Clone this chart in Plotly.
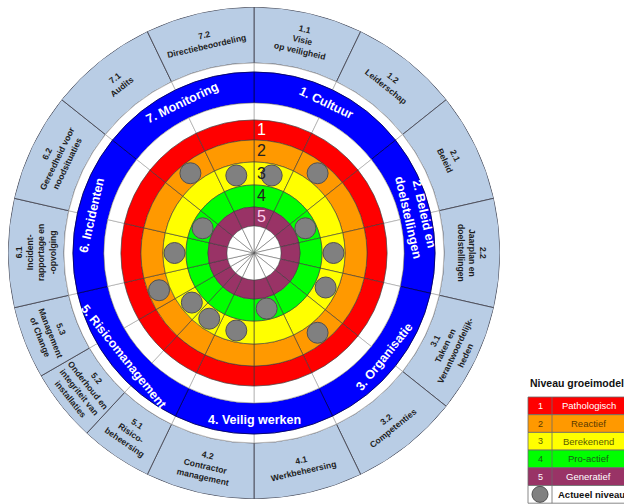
import math
import plotly.graph_objects as go

# ---------------- data ----------------
elements = ["1. Cultuur", "2. Beleid en<br>doelstellingen", "3. Organisatie",
            "4. Veilig werken", "5. Risicomanagement", "6. Incidenten", "7. Monitoring"]
sub_codes = ["1.1", "1.2", "2.1", "2.2", "3.1", "3.2", "4.1", "4.2",
             "5.1", "5.2", "5.3", "6.1", "6.2", "7.1", "7.2"]
sub_names = ["Visie<br>op veiligheid", "Leiderschap", "Beleid", "Jaarplan en<br>doelstellingen",
             "Taken en<br>Verantwoordelijk-<br>heden", "Competenties", "Werkbeheersing",
             "Contractor<br>management", "Risico-<br>beheersing",
             "Onderhoud en<br>integriteit van<br>installaties", "Management<br>of Change",
             "Incident-<br>rapportage en<br>-opvolging", "Gereedheid voor<br>noodsituaties",
             "Audits", "Directiebeoordeling"]
current_level = [3, 2, 4, 3, 3, 2, 4, 3, 3, 3, 2, 3, 4, 2, 3]
level_numbers = ["1", "2", "3", "4", "5"]
level_names = ["Pathologisch", "Reactief", "Berekenend", "Pro-actief", "Generatief"]
legend_title = "Niveau groeimodel"
legend_current = "Actueel niveau"

# ---------------- styling / geometry ----------------
FONT = "Liberation Sans, Arial, sans-serif"
level_colors = ["#ff0000", "#ff9900", "#ffff00", "#00ff00", "#993366"]
level_text_colors = ["#ffffff", "#222222", "#222222", "#222222", "#ffccee"]
legend_text_colors = ["#ffffff", "#5a3a00", "#5a5a00", "#1a5a1a", "#ffffff"]
SUB_BLUE = "#b9cde5"
MAIN_BLUE = "#0000ff"
DOT_GREY = "#808080"

R_OUT = 246
SUB_IN = 190
BLUE_OUT, BLUE_IN = 181, 150
RED_OUT = 133
level_edges = [(113, 133), (91, 113), (68, 91), (46, 68), (27, 46)]  # level 1..5 (inner, outer)
CENTER_R = 27

W, H = 624, 504
CX, CY, RP = 254, 253, 246  # center and radius of the wheel in pixels

n_main = len(elements)
main_w = 360.0 / n_main
main_mid = [i * main_w + main_w / 2 for i in range(n_main)]

parent = [int(c.split(".")[0]) - 1 for c in sub_codes]
sub_start, sub_width = [], []
for i, c in enumerate(sub_codes):
    p = parent[i]
    sibs = [j for j in range(len(sub_codes)) if parent[j] == p]
    k = sibs.index(i)
    w = main_w / len(sibs)
    sub_start.append(p * main_w + k * w)
    sub_width.append(w)
sub_mid = [s + w / 2 for s, w in zip(sub_start, sub_width)]

fig = go.Figure()


def ring(theta, width, base, thick, color, lcolor, lw):
    fig.add_trace(go.Barpolar(
        theta=theta, width=width, base=[base] * len(theta), r=[thick] * len(theta),
        marker=dict(color=color, line=dict(color=lcolor, width=lw)),
        hoverinfo="skip", showlegend=False))


# outer sub-element ring
ring(sub_mid, sub_width, SUB_IN, R_OUT - SUB_IN, SUB_BLUE, "#4a4a55", 0.9)
# white gap
ring(sub_mid, sub_width, BLUE_OUT, SUB_IN - BLUE_OUT, "#ffffff", "#9a9a9a", 0.6)
# main element ring
ring(main_mid, [main_w] * n_main, BLUE_IN, BLUE_OUT - BLUE_IN, MAIN_BLUE, "#000066", 0.9)
# white gap
ring(sub_mid, sub_width, RED_OUT, BLUE_IN - RED_OUT, "#ffffff", "#9a9a9a", 0.6)
# level rings
for li, (rin, rout) in enumerate(level_edges):
    ring(sub_mid, sub_width, rin, rout - rin, level_colors[li], "#3a3a3a", 0.6)
# centre
ring(sub_mid, sub_width, 0, CENTER_R, "#ffffff", "#555555", 0.5)

# current level dots
dot_r = [(level_edges[l - 1][0] + level_edges[l - 1][1]) / 2 for l in current_level]
fig.add_trace(go.Scatterpolar(
    r=dot_r, theta=sub_mid, mode="markers",
    marker=dict(size=21, color=DOT_GREY, line=dict(color="#505050", width=1)),
    hoverinfo="skip", showlegend=False))

# invisible cartesian overlay for rotated labels
fig.add_trace(go.Scatter(x=[None], y=[None], xaxis="x", yaxis="y",
                         hoverinfo="skip", showlegend=False))

dom_x = [(CX - RP) / W, (CX + RP) / W]
dom_y = [1 - (CY + RP) / H, 1 - (CY - RP) / H]


def xy(r, th):
    a = math.radians(th)
    return r * math.sin(a), r * math.cos(a)


def tangent_angle(th):
    if 90 < th < 270:
        return th - 180
    if th <= 90:
        return th
    return th - 360


annotations = []
for code, name, th in zip(sub_codes, sub_names, sub_mid):
    x, y = xy((SUB_IN + R_OUT) / 2, th)
    annotations.append(dict(x=x, y=y, xref="x", yref="y",
                            text="<b>" + code + "<br>" + name + "</b>",
                            textangle=tangent_angle(th), showarrow=False,
                            font=dict(family=FONT, size=8.6, color="#1e1e1e"),
                            xanchor="center", yanchor="middle", align="center"))
for name, th in zip(elements, main_mid):
    x, y = xy((BLUE_IN + BLUE_OUT) / 2 + 1, th)
    annotations.append(dict(x=x, y=y, xref="x", yref="y", text="<b>" + name + "</b>",
                            textangle=tangent_angle(th), showarrow=False,
                            font=dict(family=FONT, size=12.5, color="#ffffff"),
                            xanchor="center", yanchor="middle", align="center"))
for li, num in enumerate(level_numbers):
    rin, rout = level_edges[li]
    annotations.append(dict(x=7, y=(rin + rout) / 2, xref="x", yref="y", text=num,
                            showarrow=False,
                            font=dict(family=FONT, size=16, color=level_text_colors[li]),
                            xanchor="center", yanchor="middle"))

# ---------------- legend table (paper coords) ----------------
def px(x):
    return x / W


def py(y):
    return 1 - y / H


shapes = []
LX0, LX1, LX2 = 528, 552, 627
row_top = 397
row_h = 17.7
annotations.append(dict(x=px(LX0), y=py(row_top - 14), xref="paper", yref="paper",
                        text="<b>" + legend_title + "</b>", showarrow=False,
                        xanchor="left", yanchor="middle",
                        font=dict(family=FONT, size=10.5, color="#111111")))
for i in range(len(level_names) + 1):
    y0 = row_top + i * row_h
    y1 = y0 + row_h
    fill = level_colors[i] if i < len(level_names) else "#ffffff"
    shapes.append(dict(type="rect", xref="paper", yref="paper",
                       x0=px(LX0), x1=px(LX2), y0=py(y1), y1=py(y0),
                       fillcolor=fill, line=dict(color="#6a6a6a", width=0.8), layer="above"))
    shapes.append(dict(type="line", xref="paper", yref="paper",
                       x0=px(LX1), x1=px(LX1), y0=py(y1), y1=py(y0),
                       line=dict(color="#6a6a6a", width=0.8), layer="above"))
    ym = py((y0 + y1) / 2)
    if i < len(level_names):
        annotations.append(dict(x=px((LX0 + LX1) / 2), y=ym, xref="paper", yref="paper",
                                text=level_numbers[i], showarrow=False,
                                xanchor="center", yanchor="middle",
                                font=dict(family=FONT, size=9, color=legend_text_colors[i])))
        annotations.append(dict(x=px((LX1 + LX2) / 2 - 1), y=ym, xref="paper", yref="paper",
                                text=level_names[i], showarrow=False,
                                xanchor="center", yanchor="middle",
                                font=dict(family=FONT, size=9.5, color=legend_text_colors[i])))
    else:
        cxm, cym = (LX0 + LX1) / 2, (y0 + y1) / 2
        shapes.append(dict(type="circle", xref="paper", yref="paper",
                           x0=px(cxm - 8), x1=px(cxm + 8), y0=py(cym + 8), y1=py(cym - 8),
                           fillcolor=DOT_GREY, line=dict(color="#505050", width=1), layer="above"))
        annotations.append(dict(x=px(LX1 + 4), y=ym, xref="paper", yref="paper",
                                text="<b>" + legend_current + "</b>", showarrow=False,
                                xanchor="left", yanchor="middle",
                                font=dict(family=FONT, size=9.5, color="#111111")))

fig.update_layout(
    width=W, height=H,
    margin=dict(l=0, r=0, t=0, b=0),
    paper_bgcolor="#ffffff", plot_bgcolor="rgba(0,0,0,0)",
    showlegend=False,
    polar=dict(
        domain=dict(x=dom_x, y=dom_y),
        bgcolor="#ffffff",
        barmode="overlay",
        hole=0,
        angularaxis=dict(rotation=90, direction="clockwise", visible=False,
                         showgrid=False, showline=False, showticklabels=False, ticks=""),
        radialaxis=dict(range=[0, R_OUT], visible=False, showgrid=False,
                        showline=False, showticklabels=False, ticks=""),
    ),
    xaxis=dict(domain=dom_x, range=[-RP, RP], visible=False, fixedrange=True),
    yaxis=dict(domain=dom_y, range=[-RP, RP], visible=False, fixedrange=True),
    annotations=annotations,
    shapes=shapes,
)

fig.write_html("out.html", config={"displayModeBar": False, "staticPlot": True},
               post_script="document.body.style.margin='0';")
